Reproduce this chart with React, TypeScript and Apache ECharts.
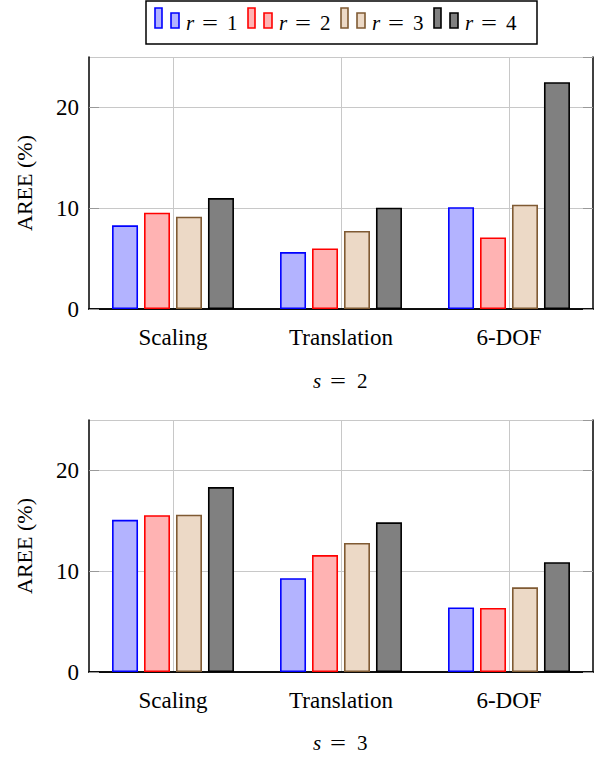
import React, { useEffect, useRef } from "react";
import * as echarts from "echarts";

const categories = ["Scaling", "Translation", "6-DOF"];
const seriesVars = ["r", "r", "r", "r"];
const seriesVals = ["1", "2", "3", "4"];
// s = 2
const s2R1 = [8.3, 5.65, 10.1];
const s2R2 = [9.55, 6.0, 7.1];
const s2R3 = [9.15, 7.75, 10.35];
const s2R4 = [11.0, 10.05, 22.5];
// s = 3
const s3R1 = [15.1, 9.3, 6.4];
const s3R2 = [15.55, 11.6, 6.35];
const s3R3 = [15.6, 12.8, 8.4];
const s3R4 = [18.35, 14.85, 10.9];
const yTicks = [0, 10, 20];
const panelTitles = ["2", "3"];
const yName = "AREE (%)";

const fills = ["#b3b3ff", "#ffb3b3", "#ecd9c6", "#808080"];
const borders = ["#0000ff", "#ff0000", "#7f5a33", "#000000"];
const FONT = "Liberation Serif";

const txt = (text: string, size: number, italic = false, extra: any = {}) => ({
  text,
  fontFamily: FONT,
  fontSize: size,
  fontStyle: italic ? "italic" : "normal",
  fill: "#000",
  verticalAlign: "middle",
  ...extra,
});

export default function App() {
  const ref = useRef<HTMLDivElement>(null);
  useEffect(() => {
    if (!ref.current) return;
    const chart = echarts.init(ref.current, null, { renderer: "svg" });
    const grids = [
      { left: 89, top: 57, width: 504, height: 252 },
      { left: 89, top: 420, width: 504, height: 252 },
    ];
    const data = [
      [s2R1, s2R2, s2R3, s2R4],
      [s3R1, s3R2, s3R3, s3R4],
    ];
    const xAxis: any[] = [];
    const yAxis: any[] = [];
    const series: any[] = [];
    grids.forEach((g, gi) => {
      xAxis.push({
        type: "category",
        gridIndex: gi,
        position: "bottom",
        data: categories,
        axisLine: { lineStyle: { color: "#000", width: 1.5 } },
        axisTick: { alignWithLabel: true, length: 11, lineStyle: { color: "#999" } },
        axisLabel: { color: "#000", fontFamily: FONT, fontSize: 23, margin: 17 },
        splitLine: { show: false },
      });
      xAxis.push({
        type: "category",
        gridIndex: gi,
        position: "top",
        data: categories,
        axisLine: { lineStyle: { color: "#000", width: 1.5 } },
        axisTick: { alignWithLabel: true, length: 11, lineStyle: { color: "#999" } },
        axisLabel: { show: false },
        splitLine: { show: true, alignWithLabel: true, lineStyle: { color: "#c8c8c8", width: 1 } },
      });
      yAxis.push({
        type: "value",
        gridIndex: gi,
        position: "left",
        min: 0,
        max: 25,
        interval: 10,
        axisLine: { show: true, lineStyle: { color: "#000", width: 1.5 } },
        axisTick: { show: true, inside: true, length: 10, lineStyle: { color: "#999" } },
        axisLabel: {
          color: "#000",
          fontFamily: FONT,
          fontSize: 23,
          margin: 10,
          showMaxLabel: false,
          formatter: (v: number) => (yTicks.includes(v) ? String(v) : ""),
        },
        splitLine: { show: true, lineStyle: { color: "#c8c8c8", width: 1 } },
      });
      yAxis.push({
        type: "value",
        gridIndex: gi,
        position: "right",
        min: 0,
        max: 25,
        interval: 10,
        axisLine: { show: true, lineStyle: { color: "#000", width: 1.5 } },
        axisTick: { show: true, inside: true, length: 10, lineStyle: { color: "#999" } },
        axisLabel: { show: false },
        splitLine: { show: false },
      });
      data[gi].forEach((vals, si) => {
        series.push({
          type: "bar",
          name: seriesVars[si] + " = " + seriesVals[si],
          xAxisIndex: gi * 2,
          yAxisIndex: gi * 2,
          data: vals,
          barWidth: 26,
          barGap: "23%",
          itemStyle: { color: fills[si], borderColor: borders[si], borderWidth: 1.6 },
        });
      });
    });

    const els: any[] = [
      {
        type: "rect",
        shape: { x: 146, y: 1, width: 391, height: 43 },
        style: { fill: "#fff", stroke: "#000", lineWidth: 1.5 },
      },
    ];
    seriesVars.forEach((v, i) => {
      const x0 = 155 + i * 93;
      els.push({
        type: "rect",
        shape: { x: x0, y: 8, width: 7, height: 20 },
        style: { fill: fills[i], stroke: borders[i], lineWidth: 1.6 },
      });
      els.push({
        type: "rect",
        shape: { x: x0 + 16, y: 13, width: 8, height: 15 },
        style: { fill: fills[i], stroke: borders[i], lineWidth: 1.6 },
      });
      els.push({ type: "text", x: x0 + 31, y: 23, style: txt(v, 21, true) });
      els.push({ type: "text", x: x0 + 47, y: 23, scaleX: 1.35, style: txt("=", 21) });
      els.push({ type: "text", x: x0 + 72, y: 23, style: txt(seriesVals[i], 21) });
    });
    panelTitles.forEach((t, i) => {
      const y = i === 0 ? 381 : 743;
      els.push({ type: "text", x: 313, y, style: txt("s", 21, true) });
      els.push({ type: "text", x: 330, y, scaleX: 1.35, style: txt("=", 21) });
      els.push({ type: "text", x: 357, y, style: txt(t, 21) });
    });
    [183, 546].forEach((cy) => {
      els.push({
        type: "text",
        x: 24,
        y: cy,
        rotation: Math.PI / 2,
        style: txt(yName, 22, false, { align: "center" }),
      });
    });

    chart.setOption({
      animation: false,
      backgroundColor: "#fff",
      grid: grids,
      xAxis,
      yAxis,
      series,
      graphic: els,
    });
    return () => chart.dispose();
  }, []);
  return (
    <div
      ref={ref}
      style={{ position: "absolute", left: 0, top: 0, width: 599, height: 758 }}
    />
  );
}
